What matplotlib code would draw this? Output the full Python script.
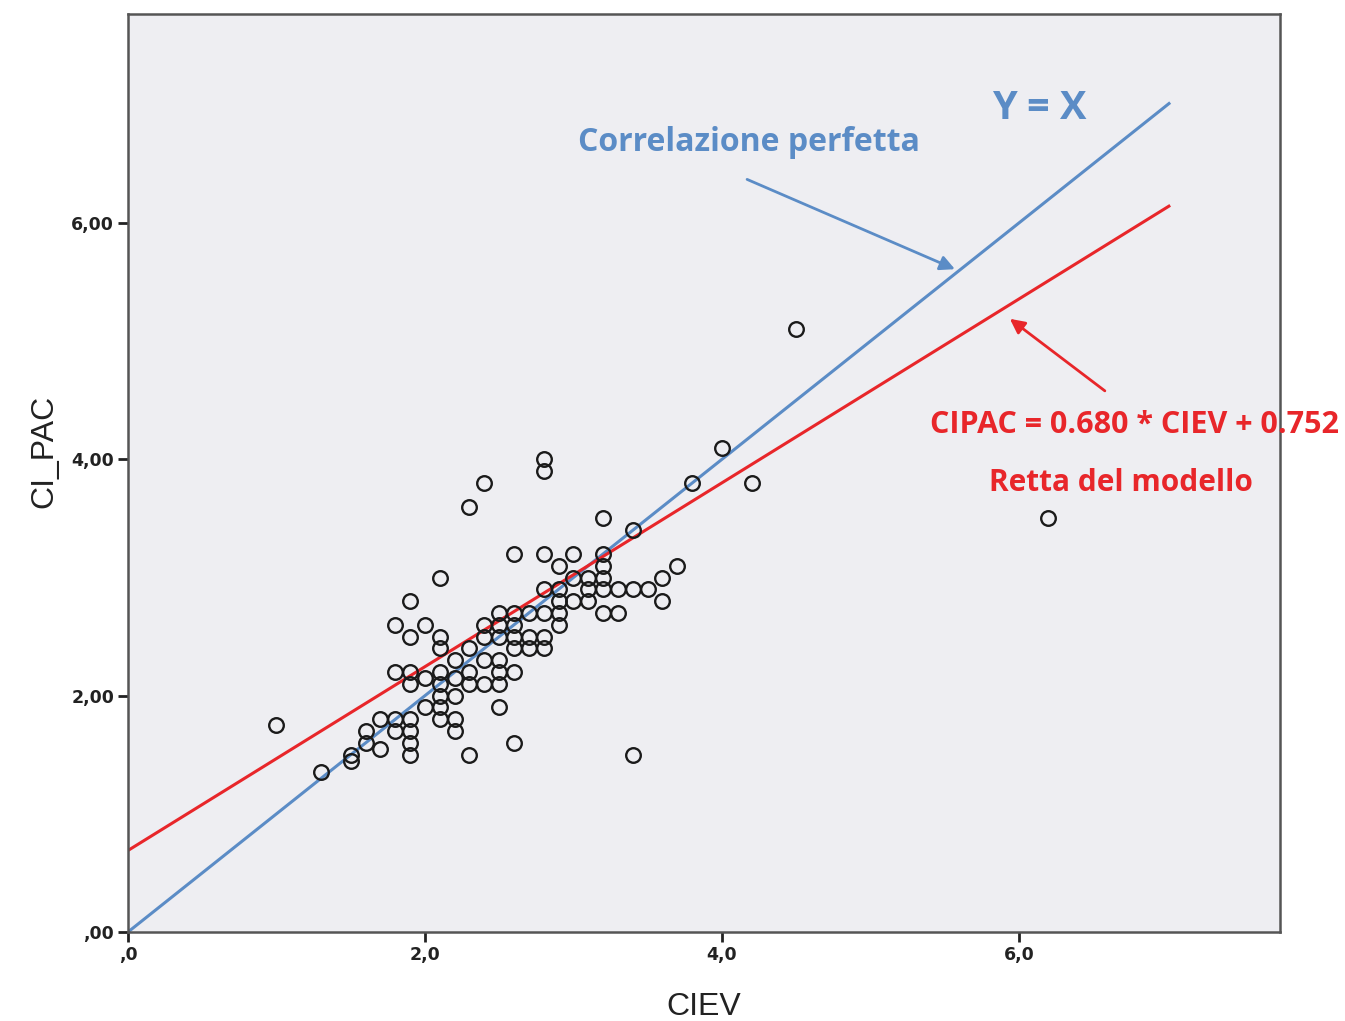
import matplotlib
matplotlib.use("Agg")
import matplotlib.pyplot as plt

# Data
ciev = [1.0, 1.3, 1.5, 1.5, 1.6, 1.6, 1.7, 1.7, 1.8, 1.8, 1.8, 1.8,
        1.9, 1.9, 1.9, 1.9, 1.9, 1.9, 1.9, 1.9, 2.0, 2.0, 2.0,
        2.1, 2.1, 2.1, 2.1, 2.1, 2.1, 2.1, 2.1,
        2.2, 2.2, 2.2, 2.2, 2.2, 2.3, 2.3, 2.3, 2.3, 2.3,
        2.4, 2.4, 2.4, 2.4, 2.4, 2.5, 2.5, 2.5, 2.5, 2.5, 2.5, 2.5,
        2.6, 2.6, 2.6, 2.6, 2.6, 2.6, 2.6, 2.7, 2.7, 2.7,
        2.8, 2.8, 2.8, 2.8, 2.8, 2.8, 2.8, 2.9, 2.9, 2.9, 2.9, 2.9,
        3.0, 3.0, 3.0, 3.1, 3.1, 3.1, 3.2, 3.2, 3.2, 3.2, 3.2, 3.2,
        3.3, 3.3, 3.4, 3.4, 3.4, 3.5, 3.6, 3.6, 3.7, 3.8, 4.0, 4.2, 4.5, 6.2]
cipac = [1.75, 1.35, 1.45, 1.5, 1.6, 1.7, 1.55, 1.8, 2.6, 2.2, 1.8, 1.7,
         2.8, 2.5, 2.2, 2.1, 1.8, 1.7, 1.6, 1.5, 2.6, 2.15, 1.9,
         3.0, 2.5, 2.4, 2.2, 2.1, 2.0, 1.9, 1.8,
         2.3, 2.15, 2.0, 1.8, 1.7, 3.6, 2.4, 2.2, 2.1, 1.5,
         3.8, 2.6, 2.5, 2.3, 2.1, 2.7, 2.6, 2.5, 2.3, 2.2, 2.1, 1.9,
         3.2, 2.7, 2.6, 2.5, 2.4, 2.2, 1.6, 2.7, 2.5, 2.4,
         4.0, 3.9, 3.2, 2.9, 2.7, 2.5, 2.4, 3.1, 2.9, 2.8, 2.7, 2.6,
         3.2, 3.0, 2.8, 3.0, 2.9, 2.8, 3.5, 3.2, 3.1, 3.0, 2.9, 2.7,
         2.9, 2.7, 3.4, 2.9, 1.5, 2.9, 3.0, 2.8, 3.1, 3.8, 4.1, 3.8, 5.1, 3.5]

line_x = [0.0, 7.02]
perfect_y = [0.0, 7.02]
model_y = [0.69, 6.15]

xticks = [0, 2, 4, 6]
xtick_labels = [",0", "2,0", "4,0", "6,0"]
yticks = [0, 2, 4, 6]
ytick_labels = [",00", "2,00", "4,00", "6,00"]

BLUE = "#5B8CC6"
RED = "#E8262A"

fig = plt.figure(figsize=(13.45, 10.21), dpi=100)
ax = fig.add_axes([0.0952, 0.0872, 0.8565, 0.8991])
ax.set_facecolor("#EEEEF2")

ax.plot(line_x, perfect_y, color=BLUE, lw=2.2, zorder=2, solid_capstyle="butt")
ax.plot(line_x, model_y, color=RED, lw=2.2, zorder=2, solid_capstyle="butt")
ax.plot(ciev, cipac, linestyle="none", marker="o", markersize=10.5,
        markerfacecolor="none", markeredgecolor="#1a1a1a", markeredgewidth=1.7,
        zorder=3)

ax.set_xlim(0, 7.76)
ax.set_ylim(0, 7.77)
ax.set_xticks(xticks)
ax.set_xticklabels(xtick_labels)
ax.set_yticks(yticks)
ax.set_yticklabels(ytick_labels)
for lab in ax.get_xticklabels() + ax.get_yticklabels():
    lab.set_fontweight("bold")
    lab.set_fontsize(12.5)
    lab.set_family("DejaVu Sans")
    lab.set_color("#222222")
ax.tick_params(axis="both", direction="out", length=7, width=2, color="#222222",
               top=False, right=False, pad=3)

for s in ax.spines.values():
    s.set_color("#555555")
    s.set_linewidth(1.8)

ax.set_xlabel("CIEV", fontsize=23, family="Liberation Sans", color="#222222",
              labelpad=20)
ax.set_ylabel("CI_PAC", fontsize=23, family="Liberation Sans", color="#222222")
ax.yaxis.set_label_coords(-0.060, 0.524)

# Annotations
ax.text(4.18, 6.68, "Correlazione perfetta", color=BLUE, fontsize=23,
        fontweight="bold", family="Open Sans", ha="center", va="center")
ax.text(6.14, 6.97, "Y = X", color=BLUE, fontsize=28.5, fontweight="bold",
        family="Open Sans", ha="center", va="center")
ax.annotate("", xy=(5.57, 5.61), xytext=(4.17, 6.37),
            arrowprops=dict(arrowstyle="-|>", color=BLUE, lw=2,
                            mutation_scale=22, shrinkA=0, shrinkB=0))
ax.text(6.78, 4.29, "CIPAC = 0.680 * CIEV + 0.752", color=RED, fontsize=22,
        fontweight="bold", family="Open Sans", ha="center", va="center",
        clip_on=False)
ax.text(6.69, 3.80, "Retta del modello", color=RED, fontsize=21.5,
        fontweight="bold", family="Open Sans", ha="center", va="center")
ax.annotate("", xy=(5.94, 5.19), xytext=(6.58, 4.58),
            arrowprops=dict(arrowstyle="-|>", color=RED, lw=2,
                            mutation_scale=22, shrinkA=0, shrinkB=0))

fig.savefig("out.png", dpi=100, facecolor="white")
